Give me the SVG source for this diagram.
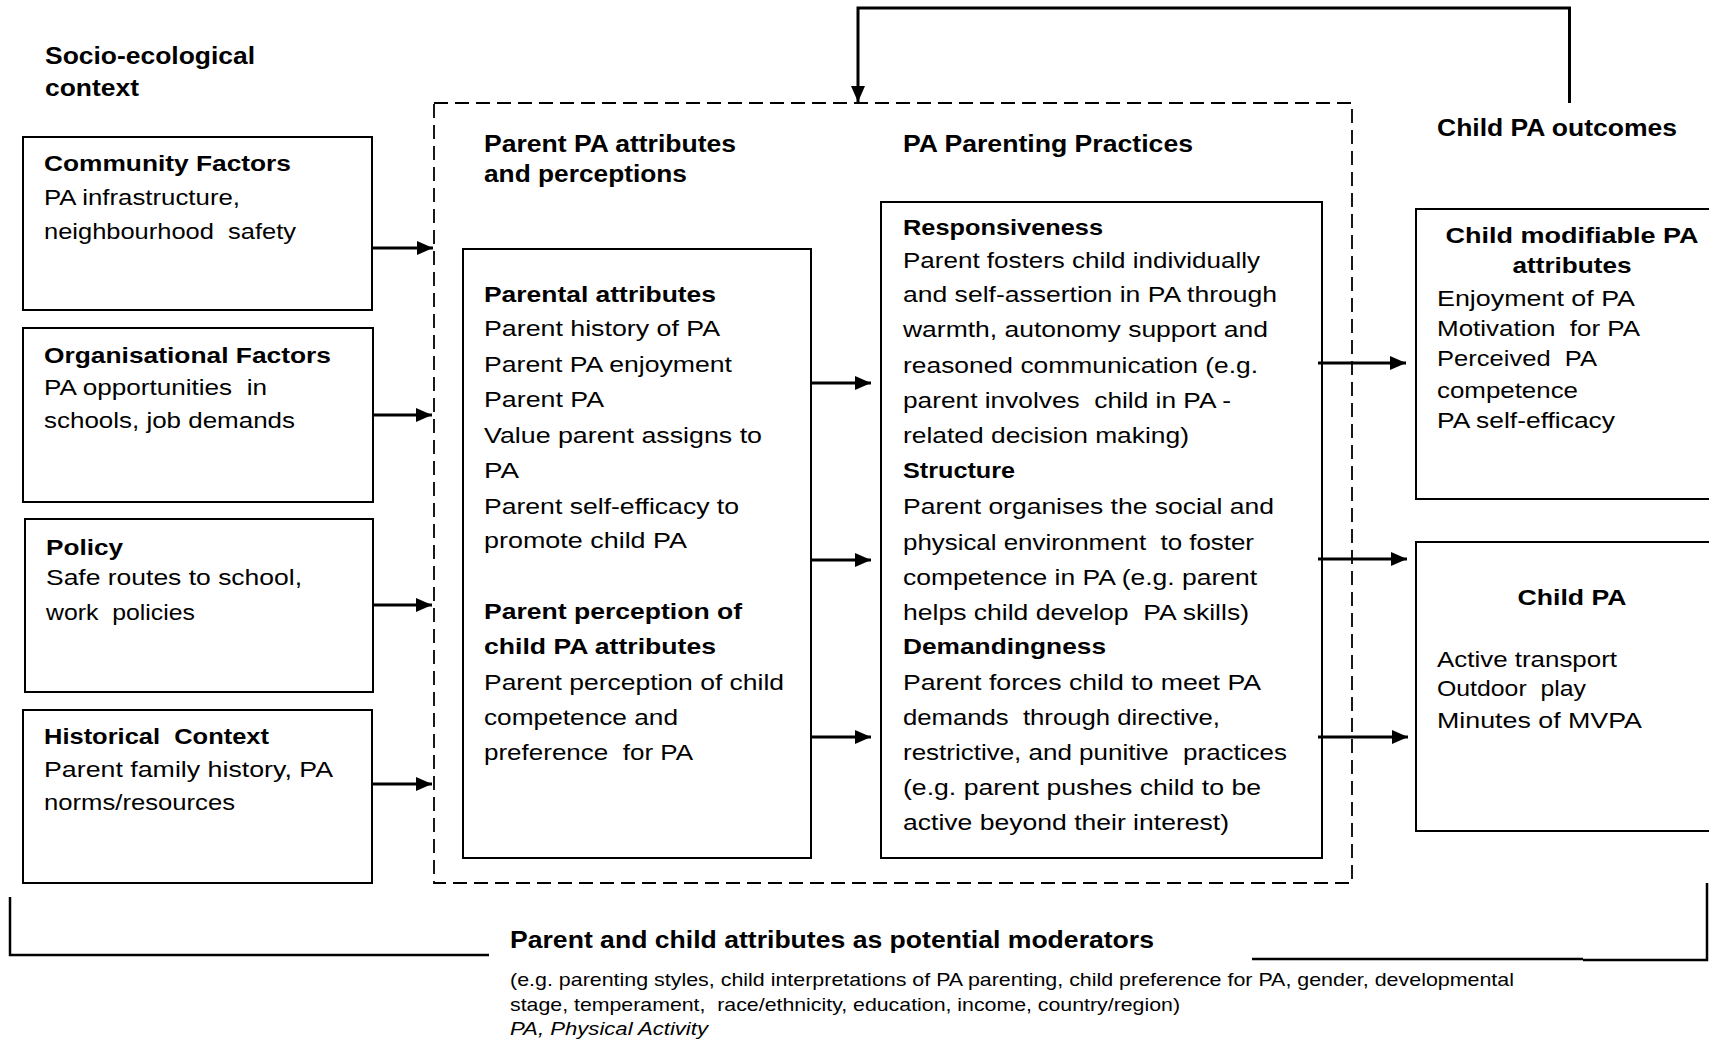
<svg xmlns="http://www.w3.org/2000/svg" width="1709" height="1043" viewBox="0 0 1709 1043">
  <style>
    text { font-family: "Liberation Sans", Arial, sans-serif; fill: #000; white-space: pre; }
    .t { font-size: 22px; }
    .b { font-size: 22px; font-weight: bold; }
    .h { font-size: 23px; font-weight: bold; }
    .s { font-size: 18.5px; }
    .i { font-size: 18.5px; font-style: italic; }
    .mid { text-anchor: middle; }
    .box { fill: #fff; stroke: #000; stroke-width: 2; }
    .dash { fill: none; stroke: #000; stroke-width: 1.8; stroke-dasharray: 14 7; }
    .arrow { fill: none; stroke: #000; stroke-width: 3; marker-end: url(#head); }
    .line { fill: none; stroke: #000; stroke-width: 2.5; }
  </style>
  <defs>
    <marker id="head" markerUnits="userSpaceOnUse" markerWidth="16" markerHeight="14" refX="16" refY="7" orient="auto">
      <path d="M0,0 L16,7 L0,14 z" fill="#000"/>
    </marker>
  </defs>
  <rect width="1709" height="1043" fill="#fff"/>

  <!-- section headings -->
  <g id="heading-context">
    <text class="h" x="45" y="64" textLength="210" lengthAdjust="spacingAndGlyphs">Socio-ecological</text>
    <text class="h" x="45" y="96" textLength="94" lengthAdjust="spacingAndGlyphs">context</text>
  </g>
  <g id="heading-parent">
    <text class="h" x="484" y="152" textLength="252" lengthAdjust="spacingAndGlyphs">Parent PA attributes</text>
    <text class="h" x="484" y="182" textLength="203" lengthAdjust="spacingAndGlyphs">and perceptions</text>
  </g>
  <g id="heading-practices">
    <text class="h" x="903" y="152" textLength="290" lengthAdjust="spacingAndGlyphs">PA Parenting Practices</text>
  </g>
  <g id="heading-outcomes">
    <text class="h" x="1437" y="136" textLength="240" lengthAdjust="spacingAndGlyphs">Child PA outcomes</text>
  </g>

  <!-- outer dashed frame around parent attributes and practices -->
  <g id="parent-frame">
    <rect class="dash" x="434" y="103" width="918" height="780"/>
  </g>

  <!-- socio-ecological context boxes -->
  <g id="community">
    <rect class="box" x="23" y="137" width="349" height="173"/>
    <text class="b" x="44" y="171" textLength="247" lengthAdjust="spacingAndGlyphs">Community Factors</text>
    <text class="t" x="44" y="205" textLength="196" lengthAdjust="spacingAndGlyphs">PA infrastructure,</text>
    <text class="t" x="44" y="239" textLength="252" lengthAdjust="spacingAndGlyphs">neighbourhood  safety</text>
  </g>
  <g id="organisational">
    <rect class="box" x="23" y="328" width="350" height="174"/>
    <text class="b" x="44" y="363" textLength="287" lengthAdjust="spacingAndGlyphs">Organisational Factors</text>
    <text class="t" x="44" y="395" textLength="223" lengthAdjust="spacingAndGlyphs">PA opportunities  in</text>
    <text class="t" x="44" y="428" textLength="251" lengthAdjust="spacingAndGlyphs">schools, job demands</text>
  </g>
  <g id="policy">
    <rect class="box" x="25" y="519" width="348" height="173"/>
    <text class="b" x="46" y="555" textLength="77" lengthAdjust="spacingAndGlyphs">Policy</text>
    <text class="t" x="46" y="585" textLength="256" lengthAdjust="spacingAndGlyphs">Safe routes to school,</text>
    <text class="t" x="46" y="620" textLength="149" lengthAdjust="spacingAndGlyphs">work  policies</text>
  </g>
  <g id="historical">
    <rect class="box" x="23" y="710" width="349" height="173"/>
    <text class="b" x="44" y="744" textLength="225" lengthAdjust="spacingAndGlyphs">Historical  Context</text>
    <text class="t" x="44" y="777" textLength="289" lengthAdjust="spacingAndGlyphs">Parent family history, PA</text>
    <text class="t" x="44" y="810" textLength="191" lengthAdjust="spacingAndGlyphs">norms/resources</text>
  </g>

  <!-- parent attributes and perceptions -->
  <g id="parent-attributes">
    <rect class="box" x="463" y="249" width="348" height="609"/>
    <text class="b" x="484" y="302" textLength="232" lengthAdjust="spacingAndGlyphs">Parental attributes</text>
    <text class="t" x="484" y="336" textLength="236" lengthAdjust="spacingAndGlyphs">Parent history of PA</text>
    <text class="t" x="484" y="372" textLength="248" lengthAdjust="spacingAndGlyphs">Parent PA enjoyment</text>
    <text class="t" x="484" y="407" textLength="120" lengthAdjust="spacingAndGlyphs">Parent PA</text>
    <text class="t" x="484" y="442.5" textLength="278" lengthAdjust="spacingAndGlyphs">Value parent assigns to</text>
    <text class="t" x="484" y="477.5" textLength="35" lengthAdjust="spacingAndGlyphs">PA</text>
    <text class="t" x="484" y="514" textLength="255" lengthAdjust="spacingAndGlyphs">Parent self-efficacy to</text>
    <text class="t" x="484" y="548" textLength="203" lengthAdjust="spacingAndGlyphs">promote child PA</text>
    <text class="b" x="484" y="618.5" textLength="258" lengthAdjust="spacingAndGlyphs">Parent perception of</text>
    <text class="b" x="484" y="653.5" textLength="232" lengthAdjust="spacingAndGlyphs">child PA attributes</text>
    <text class="t" x="484" y="690" textLength="300" lengthAdjust="spacingAndGlyphs">Parent perception of child</text>
    <text class="t" x="484" y="725" textLength="194" lengthAdjust="spacingAndGlyphs">competence and</text>
    <text class="t" x="484" y="760" textLength="209" lengthAdjust="spacingAndGlyphs">preference  for PA</text>
  </g>

  <!-- parenting practices -->
  <g id="parenting-practices">
    <rect class="box" x="881" y="202" width="441" height="656"/>
    <text class="b" x="903" y="234.5" textLength="200" lengthAdjust="spacingAndGlyphs">Responsiveness</text>
    <text class="t" x="903" y="268" textLength="357" lengthAdjust="spacingAndGlyphs">Parent fosters child individually</text>
    <text class="t" x="903" y="302" textLength="374" lengthAdjust="spacingAndGlyphs">and self-assertion in PA through</text>
    <text class="t" x="903" y="337" textLength="365" lengthAdjust="spacingAndGlyphs">warmth, autonomy support and</text>
    <text class="t" x="903" y="372.5" textLength="355" lengthAdjust="spacingAndGlyphs">reasoned communication (e.g.</text>
    <text class="t" x="903" y="408" textLength="328" lengthAdjust="spacingAndGlyphs">parent involves  child in PA -</text>
    <text class="t" x="903" y="443" textLength="286" lengthAdjust="spacingAndGlyphs">related decision making)</text>
    <text class="b" x="903" y="477.5" textLength="112" lengthAdjust="spacingAndGlyphs">Structure</text>
    <text class="t" x="903" y="513.5" textLength="371" lengthAdjust="spacingAndGlyphs">Parent organises the social and</text>
    <text class="t" x="903" y="549.5" textLength="351" lengthAdjust="spacingAndGlyphs">physical environment  to foster</text>
    <text class="t" x="903" y="584.5" textLength="354" lengthAdjust="spacingAndGlyphs">competence in PA (e.g. parent</text>
    <text class="t" x="903" y="619.5" textLength="346" lengthAdjust="spacingAndGlyphs">helps child develop  PA skills)</text>
    <text class="b" x="903" y="653.5" textLength="203" lengthAdjust="spacingAndGlyphs">Demandingness</text>
    <text class="t" x="903" y="690" textLength="358" lengthAdjust="spacingAndGlyphs">Parent forces child to meet PA</text>
    <text class="t" x="903" y="725" textLength="317" lengthAdjust="spacingAndGlyphs">demands  through directive,</text>
    <text class="t" x="903" y="760" textLength="384" lengthAdjust="spacingAndGlyphs">restrictive, and punitive  practices</text>
    <text class="t" x="903" y="795" textLength="358" lengthAdjust="spacingAndGlyphs">(e.g. parent pushes child to be</text>
    <text class="t" x="903" y="830" textLength="326" lengthAdjust="spacingAndGlyphs">active beyond their interest)</text>
  </g>

  <!-- child outcomes -->
  <g id="child-attributes">
    <rect class="box" x="1416" y="209" width="300" height="290"/>
    <text class="b mid" x="1572" y="243" textLength="253" lengthAdjust="spacingAndGlyphs">Child modifiable PA</text>
    <text class="b mid" x="1572" y="273" textLength="119" lengthAdjust="spacingAndGlyphs">attributes</text>
    <text class="t" x="1437" y="306" textLength="198" lengthAdjust="spacingAndGlyphs">Enjoyment of PA</text>
    <text class="t" x="1437" y="336" textLength="203" lengthAdjust="spacingAndGlyphs">Motivation  for PA</text>
    <text class="t" x="1437" y="366" textLength="160" lengthAdjust="spacingAndGlyphs">Perceived  PA</text>
    <text class="t" x="1437" y="397.5" textLength="141" lengthAdjust="spacingAndGlyphs">competence</text>
    <text class="t" x="1437" y="427.5" textLength="178" lengthAdjust="spacingAndGlyphs">PA self-efficacy</text>
  </g>
  <g id="child-pa">
    <rect class="box" x="1416" y="542" width="300" height="289"/>
    <text class="b mid" x="1572" y="605" textLength="109" lengthAdjust="spacingAndGlyphs">Child PA</text>
    <text class="t" x="1437" y="666.5" textLength="180" lengthAdjust="spacingAndGlyphs">Active transport</text>
    <text class="t" x="1437" y="696" textLength="149" lengthAdjust="spacingAndGlyphs">Outdoor  play</text>
    <text class="t" x="1437" y="728" textLength="205" lengthAdjust="spacingAndGlyphs">Minutes of MVPA</text>
  </g>

  <!-- moderators note -->
  <g id="moderators">
    <text class="h" x="510" y="947.5" textLength="644" lengthAdjust="spacingAndGlyphs">Parent and child attributes as potential moderators</text>
    <text class="s" x="510" y="986" textLength="1004" lengthAdjust="spacingAndGlyphs">(e.g. parenting styles, child interpretations of PA parenting, child preference for PA, gender, developmental</text>
    <text class="s" x="510" y="1011" textLength="670" lengthAdjust="spacingAndGlyphs">stage, temperament,  race/ethnicity, education, income, country/region)</text>
    <text class="i" x="510" y="1035" textLength="198" lengthAdjust="spacingAndGlyphs">PA, Physical Activity</text>
  </g>

  <!-- connectors -->
  <g id="connectors">
    <line class="arrow" x1="373" y1="248" x2="433" y2="248"/>
    <line class="arrow" x1="373" y1="415" x2="432" y2="415"/>
    <line class="arrow" x1="373" y1="605" x2="432" y2="605"/>
    <line class="arrow" x1="372" y1="784" x2="432" y2="784"/>

    <line class="arrow" x1="811" y1="383" x2="871" y2="383"/>
    <line class="arrow" x1="811" y1="560" x2="871" y2="560"/>
    <line class="arrow" x1="811" y1="737" x2="871" y2="737"/>

    <line class="arrow" x1="1318" y1="363" x2="1406" y2="363"/>
    <line class="arrow" x1="1318" y1="559" x2="1407" y2="559"/>
    <line class="arrow" x1="1318" y1="737" x2="1408" y2="737"/>

    <!-- feedback from outcomes back to the parent frame -->
    <path class="arrow" d="M1569.5,103 V8 H858 V102" stroke-width="2.5"/>

    <!-- moderator bracket -->
    <path class="line" d="M10,897 V955 H489"/>
    <path class="line" d="M1252,959 H1583" stroke-width="1.5"/>
    <path class="line" d="M1583,960 H1707 V883" stroke-width="3"/>
  </g>
</svg>
